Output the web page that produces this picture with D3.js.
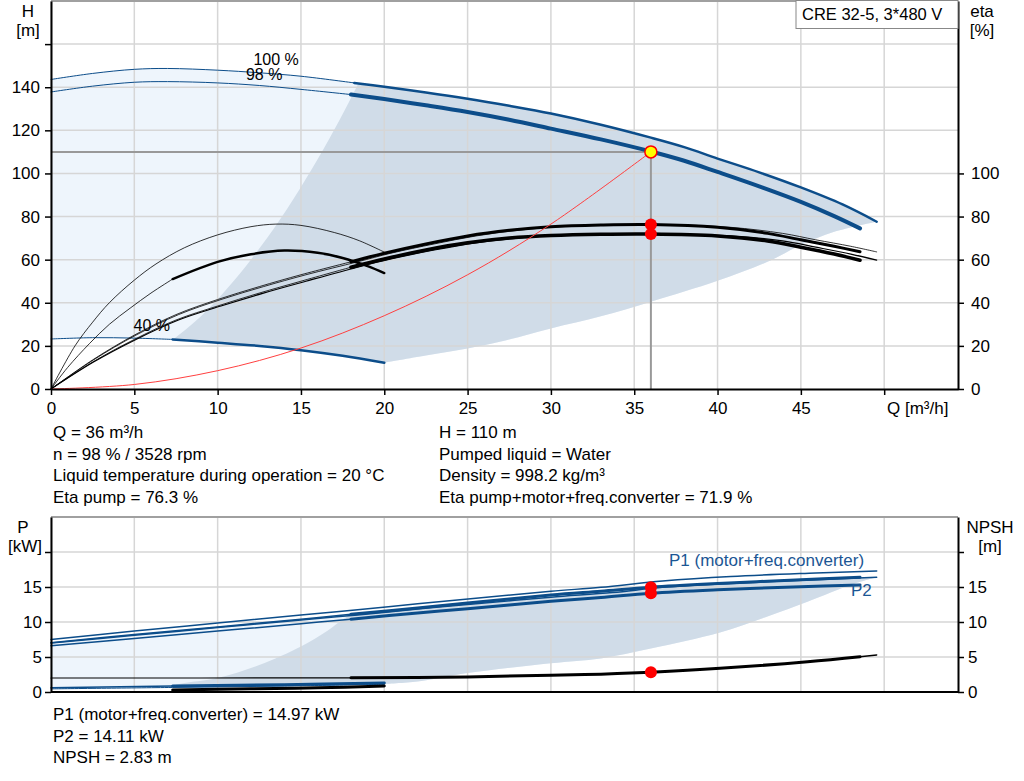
<!doctype html>
<html>
<head>
<meta charset="utf-8">
<style>
  body { margin: 0; background: #fff; }
  svg { display: block; font-family: "Liberation Sans", Arial, sans-serif; }
  text { fill: #000; font-size: 17px; }
  .axis path, .axis line { stroke: #000; }
  .axis path { stroke-width: 2px; }
  .axis line { stroke-width: 1.5px; }
  .axis text { font-family: "Liberation Sans", Arial, sans-serif; font-size: 17px; fill: #000; }
</style>
</head>
<body>
<script src="https://cdn.jsdelivr.net/npm/d3@7"></script>
<script>
  var width = 1024,
      height = 781;

  // ---- data ----
  var qTicks = [0, 5, 10, 15, 20, 25, 30, 35, 40, 45, 50];
  var hTicks = [0, 20, 40, 60, 80, 100, 120, 140, 160];
  var etaTicks = [0, 20, 40, 60, 80, 100];
  var pTicks = [0, 5, 10, 15, 20];

  // head curves [Q, H]
  var head100 = [[0,143.6],[2.5,146.4],[5,148.3],[7,148.7],[10,147.9],[12.5,146.7],[15,145.1],[18.2,142],[20,140.2],[22.5,137.6],[25,134.7],[27.5,131.4],[30,127.8],[33,122.6],[36,116.6],[38,112.2],[40,106.9],[42.5,100.5],[45,93.5],[47.5,85.6],[49.55,77.6]];
  var head98 = [[0,137.8],[2.5,140.5],[5,142.3],[7,142.6],[10,142],[12.5,140.8],[15,139],[18,136.6],[20,134.5],[22.5,131.6],[25,128.5],[27.5,124.9],[30,120.8],[33,115.8],[36,110.2],[38,105.9],[40,100.7],[42.5,94],[45,86.8],[47,80.2],[48.55,74.5]];
  var head40 = [[0,23.2],[2.5,23.8],[5,23.6],[7.3,23],[10,21.5],[12.5,20],[15,18],[17.5,15.4],[20,12.2]];

  // efficiency curves [Q, eta %]
  var etaPump100 = [[0,0],[2.55,13.5],[5.1,25],[7.65,34.5],[10.2,41.5],[12.75,47.5],[15.3,53],[18.4,59],[20.4,63],[23,67.3],[25.5,71],[28,73.6],[30.6,75.3],[33.7,76.1],[36.7,76.3],[40.8,75],[43.9,72.2],[45.9,69.2],[48,66.2],[49.55,63.6]];
  var etaTotal100 = [[0,0],[2.55,12.5],[5.1,23],[7.65,32],[10.2,38.5],[12.75,44.5],[15.3,50],[18.4,56.5],[20.4,60.3],[23,64.5],[25.5,67.8],[28,70],[30.6,71.2],[33.7,71.8],[36.7,71.9],[40.8,71],[43.9,68.7],[45.9,65.8],[48,62.6],[49.55,59.8]];
  var etaPump98 = [[0,0],[2.5,13.5],[5,25],[7.5,34.5],[10,41.5],[12.5,47.5],[15,53],[18,59],[20,63],[22.5,67.3],[25,71],[27.5,73.6],[30,75.3],[33,76.1],[36,76.3],[40,75],[43,72.2],[45,69.2],[47,66.2],[48.55,63.7]];
  var etaTotal98 = [[0,0],[2.5,12.5],[5,23],[7.5,32],[10,38.5],[12.5,44.5],[15,50],[18,56.5],[20,60.3],[22.5,64.5],[25,67.8],[27.5,70],[30,71.2],[33,71.8],[36,71.9],[40,71],[43,68.7],[45,65.8],[47,62.6],[48.55,59.7]];
  var etaPump40 = [[0,0],[1.44,20],[2.5,31],[3.5,40],[5,50.5],[6.3,58],[8,65.5],[10,71.5],[12,75.3],[13.5,76.5],[15,75.9],[17,72.6],[18.5,68.8],[20,63.5]];
  var etaTotal40 = [[0,0],[1,10],[2.3,21],[3.5,30],[4.75,37.5],[6,44.5],[7.3,51],[10,59],[12,62.5],[14,64.2],[16,63.2],[17.5,60.8],[19,57],[20,53.8]];

  var systemCurve = [[0,0],[5,2.1],[10,8.5],[15,19],[20,34],[25,53],[30,76.5],[36,110]];

  // operating area boundaries (top chart)
  var areaLow = [[20,12.2],[22.5,15.5],[25,18.8],[27,22],[30,28.1],[33,33.7],[36,40.5],[40,50.2],[43,59],[45,66.8],[47,72.9],[49.55,77.6]];
  var areaEdge = [[7.3,22.7],[9,33.7],[11,50.4],[13,70.4],[14.5,87.6],[16,106.6],[17.3,124.6],[18.4,141],[19.5,158],[20.8,180]];

  // power curves [Q, kW]
  var p1_100 = [[0,7.5],[5,8.7],[10,9.85],[15,11],[18.4,11.75],[22,12.6],[25.5,13.4],[30,14.4],[33,14.95],[36.7,15.85],[40.8,16.5],[45.9,17.0],[49.55,17.3]];
  var p1_98 = [[0,7.05],[5,8.2],[10,9.3],[15,10.4],[18,11.1],[22,12.0],[25,12.7],[30,13.85],[33,14.4],[36,14.97],[40,15.5],[45,16.05],[48.55,16.4]];
  var p2_100 = [[0,7.0],[5,8.1],[10,9.2],[15,10.3],[18.4,11.0],[22,11.85],[25.5,12.6],[30,13.55],[33.7,14.2],[36.7,14.95],[40.8,15.5],[45.9,16.05],[49.55,16.4]];
  var p2_98 = [[0,6.6],[5,7.65],[10,8.7],[15,9.75],[18,10.4],[22,11.3],[25,11.9],[30,12.95],[33,13.5],[36,14.11],[40,14.6],[45,15.05],[48.55,15.3]];
  var p1_40 = [[0,0.6],[7.3,0.85],[14,1.05],[20,1.3]];
  var p2_40 = [[0,0.45],[7.3,0.65],[14,0.85],[20,1.1]];
  var npsh = [[0,2.0],[9,2.0],[18,2.02],[25,2.15],[30,2.4],[33,2.55],[36,2.83],[40.15,3.38],[45.4,4.33],[48.55,5.05],[49.55,5.3]];
  var npsh40 = [[7.3,0.3],[12,0.45],[16,0.6],[20,0.85]];

  var powLow = [[20,1.15],[22,1.5],[25,2.7],[30,4.1],[33,4.8],[36,6.2],[40.15,8.5],[43,10.8],[45.4,12.9],[48.1,15.4],[49.55,16.4]];
  var powEdge = [[7.3,0],[7.3,0.75],[10,2.0],[12.5,3.86],[15,6.5],[16.5,8.6],[17.3,10],[17.9,11],[18.6,12.5],[19.5,25]];

  var duty = { q: 36, h: 110, etaPump: 76.3, etaTotal: 71.9, p1: 14.97, p2: 14.11, npsh: 2.83 };

  var infoLeft = ['Q = 36 m³/h', 'n = 98 % / 3528 rpm', 'Liquid temperature during operation = 20 °C', 'Eta pump = 76.3 %'];
  var infoRight = ['H = 110 m', 'Pumped liquid = Water', 'Density = 998.2 kg/m³', 'Eta pump+motor+freq.converter = 71.9 %'];
  var infoBottom = ['P1 (motor+freq.converter) = 14.97 kW', 'P2 = 14.11 kW', 'NPSH = 2.83 m'];

  // ---- drawing ----
  var blue = '#0c4d8a',
      lightFill = '#eef5fc',
      darkFill = '#d0dce8',
      gridColor = '#d6d6d6';

  var svg = d3.select('body').append('svg')
      .attr('width', width)
      .attr('height', height);

  var x = d3.scaleLinear().domain([0, 54.43]).range([51, 958]);
  var yH = d3.scaleLinear().domain([0, 180]).range([389, 1]);
  var yP = d3.scaleLinear().domain([0, 25]).range([692, 517]);

  var lineH = d3.line().x(function (d) { return x(d[0]); }).y(function (d) { return yH(d[1]); }).curve(d3.curveCatmullRom);
  var lineP = d3.line().x(function (d) { return x(d[0]); }).y(function (d) { return yP(d[1]); }).curve(d3.curveCatmullRom);

  var rev = function (a) { return a.slice().reverse(); };
  var part = function (a, q0, q1) {
    return a.filter(function (d) { return d[0] >= q0 - 1e-9 && d[0] <= q1 + 1e-9; });
  };
  var joined = function (gen, pieces) {
    return pieces.map(function (p, i) {
      var d = gen(p);
      return i ? d.replace(/^M/, 'L') : d;
    }).join('') + 'Z';
  };

  var defs = svg.append('defs');
  defs.append('clipPath').attr('id', 'clipTop').append('path')
      .attr('d', joined(lineH, [areaEdge, [[54.43, 180], [54.43, 0], [7.3, 0]]]));
  defs.append('clipPath').attr('id', 'clipBot').append('path')
      .attr('d', joined(lineP, [powEdge, [[54.43, 25], [54.43, 0]]]));

  var curve = function (g, gen, data, color, w) {
    g.append('path').attr('d', gen(data)).attr('fill', 'none')
        .attr('stroke', color).attr('stroke-width', w).attr('stroke-linecap', 'round');
  };

  // ---------- top chart ----------
  var gTop = svg.append('g');
  var topArea = joined(lineH, [head100, rev(areaLow), rev(head40)]);
  gTop.append('path').attr('d', topArea).attr('fill', lightFill);
  gTop.append('path').attr('d', topArea).attr('fill', darkFill).attr('clip-path', 'url(#clipTop)');

  gTop.selectAll('.vgrid').data(qTicks).enter().append('line')
      .attr('x1', x).attr('x2', x).attr('y1', yH(180)).attr('y2', yH(0))
      .attr('stroke', gridColor).attr('stroke-width', 1.5);
  gTop.selectAll('.hgrid').data(hTicks.slice(1)).enter().append('line')
      .attr('x1', x(0)).attr('x2', x(54.43)).attr('y1', yH).attr('y2', yH)
      .attr('stroke', gridColor).attr('stroke-width', 1.5);
  gTop.append('line').attr('x1', x(0)).attr('x2', x(54.43)).attr('y1', 1).attr('y2', 1)
      .attr('stroke', '#a0a0a0').attr('stroke-width', 2);

  // duty lines
  gTop.append('line').attr('x1', x(0)).attr('x2', x(duty.q)).attr('y1', yH(duty.h)).attr('y2', yH(duty.h))
      .attr('stroke', '#999').attr('stroke-width', 2);
  gTop.append('line').attr('x1', x(duty.q)).attr('x2', x(duty.q)).attr('y1', yH(duty.h)).attr('y2', yH(0))
      .attr('stroke', '#999').attr('stroke-width', 2);

  // head curves
  curve(gTop, lineH, part(head100, 0, 18.2), blue, 1);
  curve(gTop, lineH, part(head100, 18.2, 60), blue, 2.5);
  curve(gTop, lineH, part(head98, 0, 18), blue, 1);
  curve(gTop, lineH, part(head98, 18, 60), blue, 4);
  curve(gTop, lineH, part(head40, 0, 7.3), blue, 1);
  curve(gTop, lineH, part(head40, 7.3, 20), blue, 2.5);

  // efficiency curves
  curve(gTop, lineH, etaPump100, '#000', 0.8);
  curve(gTop, lineH, etaTotal100, '#000', 1.2);
  curve(gTop, lineH, part(etaPump98, 0, 18), '#000', 0.8);
  curve(gTop, lineH, part(etaPump98, 18, 60), '#000', 3);
  curve(gTop, lineH, part(etaTotal98, 0, 18), '#000', 0.8);
  curve(gTop, lineH, part(etaTotal98, 18, 60), '#000', 3.5);
  curve(gTop, lineH, etaPump40, '#000', 0.8);
  curve(gTop, lineH, part(etaTotal40, 0, 7.3), '#000', 0.8);
  curve(gTop, lineH, part(etaTotal40, 7.3, 20), '#000', 2.5);

  // system curve
  curve(gTop, lineH, systemCurve, '#ff4040', 1);

  gTop.append('circle').attr('cx', x(duty.q)).attr('cy', yH(duty.etaPump)).attr('r', 6).attr('fill', '#ff0000');
  gTop.append('circle').attr('cx', x(duty.q)).attr('cy', yH(duty.etaTotal)).attr('r', 6).attr('fill', '#ff0000');
  gTop.append('circle').attr('cx', x(duty.q)).attr('cy', yH(duty.h)).attr('r', 6)
      .attr('fill', '#ffff00').attr('stroke', '#ff0000').attr('stroke-width', 1.5);

  gTop.append('text').attr('x', x(12.15)).attr('y', 65).style('font-size', '16px').text('100 %');
  gTop.append('text').attr('x', x(11.7)).attr('y', 80).style('font-size', '16px').text('98 %');
  gTop.append('text').attr('x', x(4.95)).attr('y', 331).style('font-size', '16px').text('40 %');

  // axes
  gTop.append('g').attr('class', 'axis').attr('transform', 'translate(' + x(0) + ',0)')
      .call(d3.axisLeft(yH).tickValues(hTicks).tickSize(6).tickPadding(5).tickSizeOuter(0)
        .tickFormat(function (d) { return d <= 140 ? d : ''; }));
  gTop.append('g').attr('class', 'axis').attr('transform', 'translate(' + x(54.43) + ',0)')
      .call(d3.axisRight(yH).tickValues(etaTicks).tickSize(6).tickPadding(7).tickSizeOuter(0));
  gTop.append('g').attr('class', 'axis').attr('transform', 'translate(0,' + yH(0) + ')')
      .call(d3.axisBottom(x).tickValues(qTicks).tickSize(6).tickPadding(7).tickSizeOuter(0)
        .tickFormat(function (d) { return d < 50 ? d : ''; }));

  gTop.append('text').attr('x', 887).attr('y', 414).text('Q [m³/h]');
  gTop.append('text').attr('x', 28).attr('y', 17).attr('text-anchor', 'middle').text('H');
  gTop.append('text').attr('x', 28).attr('y', 36).attr('text-anchor', 'middle').text('[m]');
  gTop.append('text').attr('x', 982).attr('y', 17).attr('text-anchor', 'middle').text('eta');
  gTop.append('text').attr('x', 982).attr('y', 36).attr('text-anchor', 'middle').text('[%]');

  gTop.append('rect').attr('x', 796).attr('y', 0.5).attr('width', 162).attr('height', 28)
      .attr('fill', '#fff').attr('stroke', '#888').attr('stroke-width', 1);
  gTop.append('text').attr('x', 802).attr('y', 20).style('font-size', '16.5px').text('CRE 32-5, 3*480 V');

  // ---------- info text ----------
  svg.selectAll('.infoL').data(infoLeft).enter().append('text')
      .attr('x', 53).attr('y', function (d, i) { return 438 + i * 21.7; }).text(function (d) { return d; });
  svg.selectAll('.infoR').data(infoRight).enter().append('text')
      .attr('x', 439).attr('y', function (d, i) { return 438 + i * 21.7; }).text(function (d) { return d; });
  svg.selectAll('.infoB').data(infoBottom).enter().append('text')
      .attr('x', 53).attr('y', function (d, i) { return 720 + i * 21.7; }).text(function (d) { return d; });

  // ---------- bottom chart ----------
  var gBot = svg.append('g');
  var botArea = joined(lineP, [p2_100, rev(powLow), rev(p2_40)]);
  gBot.append('path').attr('d', botArea).attr('fill', lightFill);
  gBot.append('path').attr('d', botArea).attr('fill', darkFill).attr('clip-path', 'url(#clipBot)');

  gBot.selectAll('.vgrid').data(qTicks).enter().append('line')
      .attr('x1', x).attr('x2', x).attr('y1', yP(25)).attr('y2', yP(0))
      .attr('stroke', gridColor).attr('stroke-width', 1.5);
  gBot.selectAll('.hgrid').data(pTicks.slice(1)).enter().append('line')
      .attr('x1', x(0)).attr('x2', x(54.43)).attr('y1', yP).attr('y2', yP)
      .attr('stroke', gridColor).attr('stroke-width', 1.5);
  gBot.append('line').attr('x1', x(0)).attr('x2', x(54.43)).attr('y1', yP(25)).attr('y2', yP(25))
      .attr('stroke', '#a0a0a0').attr('stroke-width', 2);

  curve(gBot, lineP, p1_100, blue, 1.5);
  curve(gBot, lineP, p2_100, blue, 1.5);
  curve(gBot, lineP, part(p1_98, 0, 18), blue, 1.5);
  curve(gBot, lineP, part(p1_98, 18, 60), blue, 3);
  curve(gBot, lineP, part(p2_98, 0, 18), blue, 1.5);
  curve(gBot, lineP, part(p2_98, 18, 60), blue, 3);
  curve(gBot, lineP, part(p1_40, 0, 7.3), blue, 1.5);
  curve(gBot, lineP, part(p1_40, 7.3, 20), blue, 3);
  curve(gBot, lineP, p2_40, blue, 1);
  curve(gBot, lineP, part(npsh, 0, 18), '#000', 1.2);
  curve(gBot, lineP, part(npsh, 18, 48.55), '#000', 3);
  curve(gBot, lineP, part(npsh, 48.55, 60), '#000', 1.5);
  curve(gBot, lineP, npsh40, '#000', 3);

  [duty.p1, duty.p2, duty.npsh].forEach(function (v) {
    gBot.append('circle').attr('cx', x(duty.q)).attr('cy', yP(v)).attr('r', 6).attr('fill', '#ff0000');
  });

  gBot.append('text').attr('x', 669).attr('y', 566).style('fill', '#1b5694').text('P1 (motor+freq.converter)');
  gBot.append('text').attr('x', 851).attr('y', 596).style('fill', '#1b5694').text('P2');

  gBot.append('g').attr('class', 'axis').attr('transform', 'translate(' + x(0) + ',0)')
      .call(d3.axisLeft(yP).tickValues(pTicks).tickSize(6).tickPadding(3).tickSizeOuter(0)
        .tickFormat(function (d) { return d < 20 ? d : ''; }));
  gBot.append('g').attr('class', 'axis').attr('transform', 'translate(' + x(54.43) + ',0)')
      .call(d3.axisRight(yP).tickValues(pTicks).tickSize(6).tickPadding(4).tickSizeOuter(0)
        .tickFormat(function (d) { return d < 20 ? d : ''; }));
  gBot.append('line').attr('x1', x(0)).attr('x2', x(54.43)).attr('y1', yP(0)).attr('y2', yP(0))
      .attr('stroke', '#000').attr('stroke-width', 2);

  gBot.append('text').attr('x', 23).attr('y', 533).attr('text-anchor', 'middle').text('P');
  gBot.append('text').attr('x', 25).attr('y', 552).attr('text-anchor', 'middle').text('[kW]');
  gBot.append('text').attr('x', 990).attr('y', 533).attr('text-anchor', 'middle').text('NPSH');
  gBot.append('text').attr('x', 990).attr('y', 552).attr('text-anchor', 'middle').text('[m]');
</script>
</body>
</html>
